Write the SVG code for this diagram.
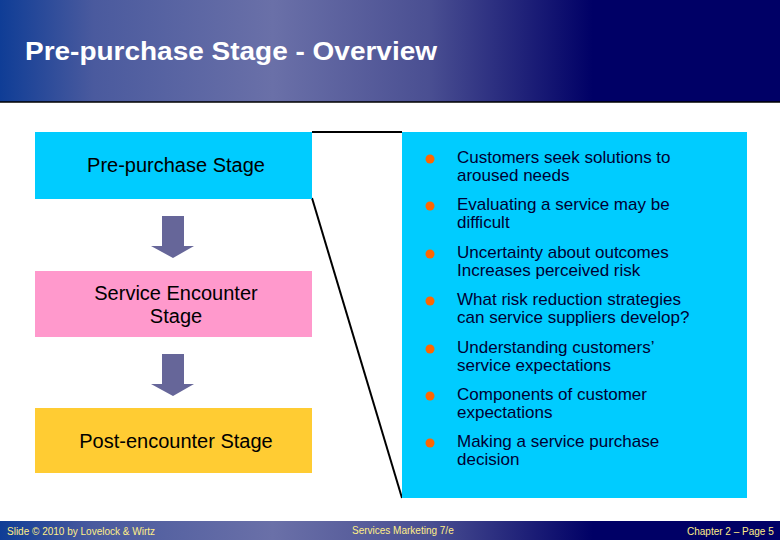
<svg xmlns="http://www.w3.org/2000/svg" width="780" height="540" viewBox="0 0 780 540">
<defs>
<linearGradient id="hg" x1="0" y1="0" x2="1" y2="0">
<stop offset="0" stop-color="#0f3d96"/>
<stop offset="0.12" stop-color="#4a5a9e"/>
<stop offset="0.35" stop-color="#6a70a8"/>
<stop offset="0.55" stop-color="#4a4f92"/>
<stop offset="0.76" stop-color="#000066"/>
<stop offset="1" stop-color="#000066"/>
</linearGradient>
<style>
.t{font-family:"Liberation Sans",Arial,sans-serif;font-size:20px;fill:#000}
.b{font-family:"Liberation Sans",Arial,sans-serif;font-size:17px;fill:#000033}
.f{font-family:"Liberation Sans",Arial,sans-serif;font-size:10px;fill:#ffee88}
.d{fill:#ff6600}
.ar{fill:#666699}
</style>
</defs>
<rect width="780" height="540" fill="#fff"/>
<rect width="780" height="102" fill="url(#hg)"/>
<line x1="0" y1="102" x2="780" y2="102" stroke="#000" stroke-width="1.5"/>
<text x="25" y="60" font-family="Liberation Sans,Arial,sans-serif" font-size="26" font-weight="bold" fill="#fff" textLength="412" lengthAdjust="spacingAndGlyphs">Pre-purchase Stage - Overview</text>
<rect y="521" width="780" height="19" fill="url(#hg)"/>
<text class="f" x="7" y="535">Slide © 2010 by Lovelock &amp; Wirtz</text>
<text class="f" x="352" y="534">Services Marketing 7/e</text>
<text class="f" x="687" y="535">Chapter 2 – Page 5</text>
<g id="connectors" stroke="#000" stroke-width="2" fill="none">
<line x1="312" y1="132" x2="402" y2="132"/>
<line x1="312" y1="198" x2="402" y2="498"/>
</g>
<g id="pre"><rect x="35" y="132" width="277" height="67" fill="#00ccff"/><text class="t" x="176" y="172" text-anchor="middle">Pre-purchase Stage</text></g>
<g id="arrow1"><polygon class="ar" points="162,216 184,216 184,246 194,246 173,258 151,246 162,246"/></g>
<g id="enc"><rect x="35" y="271" width="277" height="66" fill="#ff99cc"/><text class="t" x="176" y="300" text-anchor="middle">Service Encounter</text><text class="t" x="176" y="323" text-anchor="middle">Stage</text></g>
<g id="arrow2"><polygon class="ar" points="162,354 184,354 184,384 194,384 173,396 151,384 162,384"/></g>
<g id="post"><rect x="35" y="408" width="277" height="65" fill="#ffcc33"/><text class="t" x="176" y="448" text-anchor="middle">Post-encounter Stage</text></g>
<g id="list">
<rect x="402" y="132" width="345" height="366" fill="#00ccff"/>
<circle class="d" cx="430" cy="159" r="4.5"/><text class="b" x="457" y="163">Customers seek solutions to</text><text class="b" x="457" y="181">aroused needs</text>
<circle class="d" cx="430" cy="206" r="4.5"/><text class="b" x="457" y="210">Evaluating a service may be</text><text class="b" x="457" y="228">difficult</text>
<circle class="d" cx="430" cy="254" r="4.5"/><text class="b" x="457" y="258">Uncertainty about outcomes</text><text class="b" x="457" y="276">Increases perceived risk</text>
<circle class="d" cx="430" cy="301" r="4.5"/><text class="b" x="457" y="305">What risk reduction strategies</text><text class="b" x="457" y="323">can service suppliers develop?</text>
<circle class="d" cx="430" cy="349" r="4.5"/><text class="b" x="457" y="353">Understanding customers’</text><text class="b" x="457" y="371">service expectations</text>
<circle class="d" cx="430" cy="396" r="4.5"/><text class="b" x="457" y="400">Components of customer</text><text class="b" x="457" y="418">expectations</text>
<circle class="d" cx="430" cy="443" r="4.5"/><text class="b" x="457" y="447">Making a service purchase</text><text class="b" x="457" y="465">decision</text>
</g>
</svg>
